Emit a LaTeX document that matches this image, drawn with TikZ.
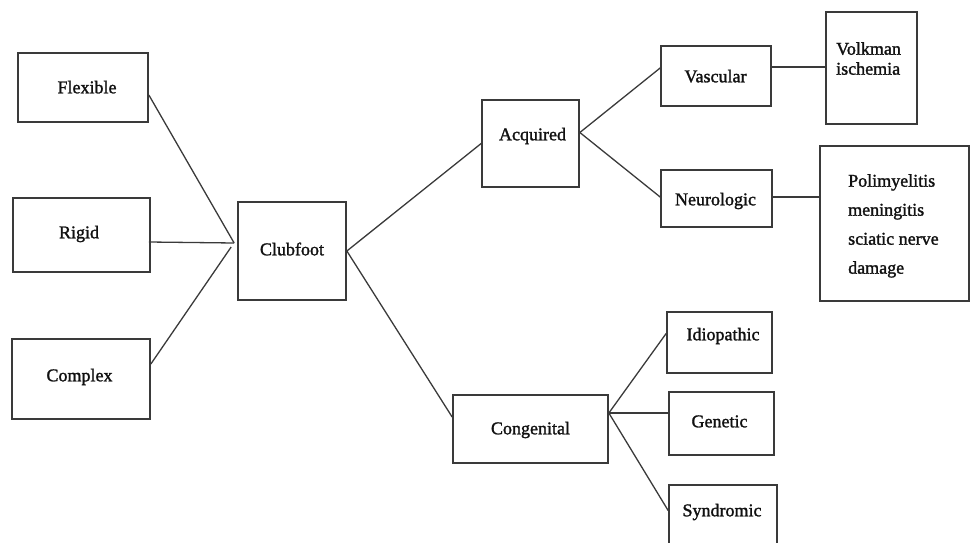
\documentclass[tikz,border=0pt]{standalone}
\usepackage{fontspec}
\setmainfont{Liberation Serif}[AutoFakeBold=1.5]
\usetikzlibrary{calc}
\definecolor{ink}{HTML}{3A3A3A}
\definecolor{txt}{HTML}{111111}
\begin{document}
\begin{tikzpicture}[x=1pt,y=-1pt,
  box/.style={draw=ink, line width=1.7pt, rectangle, inner sep=0pt},
  lbl/.style={text=txt, font=\fontsize{18}{20}\selectfont\bfseries, inner sep=0pt, anchor=mid},
  conn/.style={draw=ink, line width=1.3pt}]
\useasboundingbox (0,0) rectangle (971,543);
\clip (0,0) rectangle (971,543);
% boxes
\node[box, minimum width=130pt, minimum height=69pt] (flex) at (83,87.5) {};
\node[box, minimum width=137pt, minimum height=74pt] (rigid) at (81.5,235) {};
\node[box, minimum width=138pt, minimum height=80pt] (complex) at (81,379) {};
\node[box, minimum width=108pt, minimum height=98pt] (club) at (292,251) {};
\node[box, minimum width=97pt, minimum height=87pt] (acq) at (530.5,143.5) {};
\node[box, minimum width=110pt, minimum height=60pt] (vasc) at (716,76) {};
\node[box, minimum width=91pt, minimum height=112pt] (volk) at (871.5,68) {};
\node[box, minimum width=111pt, minimum height=57pt] (neur) at (716.5,198.5) {};
\node[box, minimum width=149pt, minimum height=155pt] (polio) at (894.5,223.5) {};
\node[box, minimum width=155pt, minimum height=68pt] (cong) at (530.5,429) {};
\node[box, minimum width=105pt, minimum height=61pt] (idio) at (719.5,342.5) {};
\node[box, minimum width=105pt, minimum height=63pt] (gen) at (721.5,423.5) {};
\node[box, minimum width=108pt, minimum height=63pt] (synd) at (723,516.5) {};
% labels
\node[lbl] (tflex) at (87,91) {Flexible};
\node[lbl] (trigid) at (79,236) {Rigid};
\node[lbl] (tcomplex) at (79.5,379) {Complex};
\node[lbl] (tclub) at (292,253) {Clubfoot};
\node[lbl] (tacq) at (532.5,138) {Acquired};
\node[lbl] (tvasc) at (715.5,80) {Vascular};
\node[lbl, anchor=north west, align=left, font=\fontsize{18}{20}\selectfont\bfseries] (tvolk) at (836,42) {Volkman\\ischemia};
\node[lbl] (tneur) at (715.5,203) {Neurologic};
\node[lbl, anchor=north west, align=left, font=\fontsize{18}{29}\selectfont\bfseries] (tpolio) at (848,174) {Polimyelitis\\meningitis\\sciatic nerve\\damage};
\node[lbl] (tcong) at (530.5,432) {Congenital};
\node[lbl] (tidio) at (723,338) {Idiopathic};
\node[lbl] (tgen) at (719.5,425) {Genetic};
\node[lbl] (tsynd) at (722,514) {Syndromic};
% junction coordinates
\coordinate (cin) at ($(club.west)+(-3,-8)$);
\coordinate (cin2) at ($(club.west)+(-6,-4)$);
\coordinate (aj) at ($(acq.east)+(0,-11)$);
\coordinate (cj) at ($(cong.east)+(0,-16)$);
\coordinate (vj) at ($(vasc.east)+(0,-9)$);
\coordinate (nj) at ($(neur.east)+(0,-1.5)$);
% connectors
\draw[conn] ($(flex.east)+(0,7.5)$) -- (cin);
\draw[conn] ($(rigid.east)+(-2,7)$) -- (cin);
\draw[conn] ($(complex.east)+(0,-15)$) -- (cin2);
\draw[conn] (club.east) -- (acq.west);
\draw[conn] (club.east) -- ($(cong.west)+(0,-12)$);
\draw[conn] (aj) -- ($(vasc.west)+(0,-8)$);
\draw[conn] (aj) -- ($(neur.west)+(0,-1.5)$);
\draw[conn] (vj) -- (vj -| volk.west);
\draw[conn] (nj) -- (nj -| polio.west);
\draw[conn] (cj) -- ($(idio.west)+(0,-9)$);
\draw[conn] (cj) -- (cj -| gen.west);
\draw[conn] (cj) -- ($(synd.west)+(0,-6)$);
\end{tikzpicture}
\end{document}
